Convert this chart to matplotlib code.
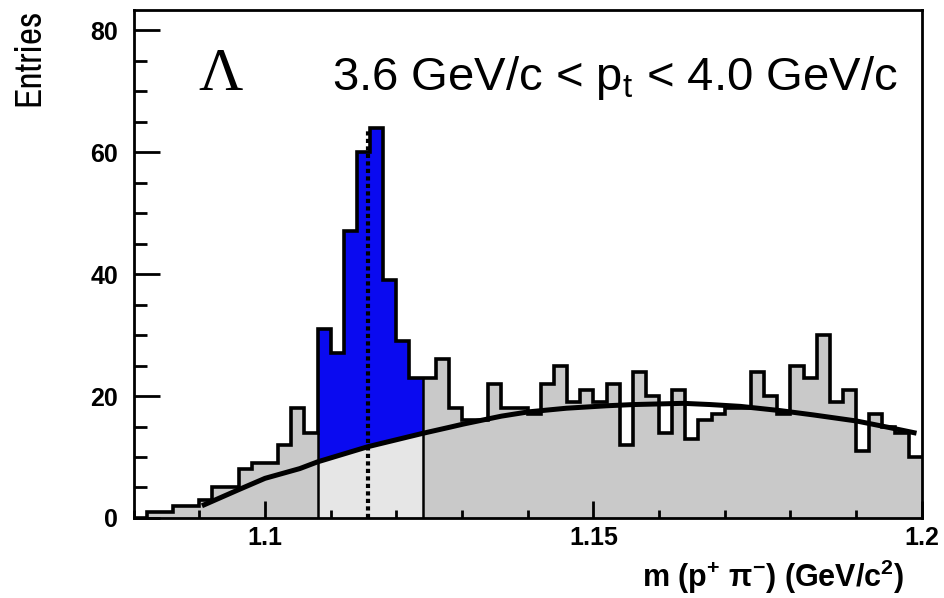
import numpy as np
import matplotlib
matplotlib.use("Agg")
import matplotlib.pyplot as plt
from matplotlib.ticker import MultipleLocator, FixedLocator

# ---- data ----
bin_edges = np.round(np.arange(1.080, 1.2001, 0.002), 3)
counts = [0, 1, 1, 2, 2, 3, 5, 5, 8, 9,
          9, 12, 18, 14, 31, 27, 47, 60, 64, 39,
          29, 23, 23, 26, 18, 16, 16, 22, 18, 18,
          17, 22, 25, 19, 21, 19, 22, 12, 24, 20,
          14, 21, 13, 16, 17, 18, 18, 24, 20, 17,
          25, 23, 30, 19, 21, 11, 17, 15, 14, 10]
fit_x = [1.0904, 1.0959, 1.1000, 1.1053, 1.1080, 1.1157, 1.1241, 1.1282, 1.1302,
         1.1360, 1.1401, 1.1459, 1.1520, 1.1561, 1.1637, 1.1678, 1.1724, 1.1785,
         1.1835, 1.1901, 1.1952, 1.1992]
fit_y = [2.0, 4.6, 6.5, 8.1, 9.2, 11.7, 13.9, 14.9, 15.4,
         16.7, 17.4, 18.0, 18.4, 18.6, 18.8, 18.6, 18.3, 17.6,
         16.9, 15.9, 14.8, 13.9]
window = (1.108, 1.124)
peak_mean = 1.1157
peak_top = 64
x_major = [1.1, 1.15, 1.2]
y_major = [0, 20, 40, 60, 80]

counts = np.array(counts, dtype=float)
edges = bin_edges

GRAY = "#c9c9c9"
LIGHT = "#e6e6e6"
BLUE = "#0a0af0"

fig = plt.figure(figsize=(9.45, 5.98), dpi=100)
ax = fig.add_axes([0.1414, 0.1338, 0.834, 0.8495])
ax.set_xlim(1.08, 1.2)
ax.set_ylim(0, 83.3)

# gray fill outside the signal window
in_win = (edges[:-1] >= window[0] - 1e-9) & (edges[1:] <= window[1] + 1e-9)
for i in range(len(counts)):
    if not in_win[i] and counts[i] > 0:
        ax.fill_between([edges[i], edges[i + 1]], 0, counts[i], color=GRAY, lw=0, zorder=1)

# signal window: light gray under fit, blue between fit and histogram
xg = np.linspace(window[0], window[1], 400)
fit_g = np.interp(xg, fit_x, fit_y)
idx = np.clip(np.searchsorted(edges, xg, side="right") - 1, 0, len(counts) - 1)
idx[-1] = idx[-2]
hist_g = counts[idx]
ax.fill_between(xg, 0, fit_g, color=LIGHT, lw=0, zorder=1)
ax.fill_between(xg, fit_g, hist_g, color=BLUE, lw=0, zorder=1)

# window boundary lines
i0 = int(np.argmin(np.abs(edges - window[0])))
i1 = int(np.argmin(np.abs(edges - window[1])))
ax.vlines([window[0]], 0, min(counts[i0 - 1], counts[i0]), color="black", lw=1.8, zorder=3)
ax.vlines([window[1]], 0, min(counts[i1 - 1], counts[i1]), color="black", lw=1.8, zorder=3)

# histogram outline
ax.stairs(counts, edges, color="black", lw=2.6, zorder=4, baseline=None)

# mean marker
ax.vlines([peak_mean], 0, peak_top, color="black", lw=3, linestyles=[(0, (1, 0.8))], zorder=5)

# fit curve
ax.plot(fit_x, fit_y, color="black", lw=3.6, zorder=6, solid_capstyle="butt")

# frame and ticks
for s in ax.spines.values():
    s.set_linewidth(2)
ax.xaxis.set_major_locator(FixedLocator(x_major))
ax.xaxis.set_minor_locator(MultipleLocator(0.01))
ax.yaxis.set_major_locator(FixedLocator(y_major))
ax.yaxis.set_minor_locator(MultipleLocator(5))
ax.tick_params(axis="both", which="both", direction="in", top=False, right=False, width=2)
ax.tick_params(axis="x", which="major", length=12, pad=6)
ax.tick_params(axis="x", which="minor", length=6)
ax.tick_params(axis="y", which="major", length=19, pad=11)
ax.tick_params(axis="y", which="minor", length=9.5)
ax.set_xticklabels(["1.1", "1.15", "1.2"])
ax.set_yticklabels([str(v) for v in y_major])
for lab in ax.get_xticklabels() + ax.get_yticklabels():
    lab.set_fontfamily("Liberation Sans")
    lab.set_fontweight("bold")
    lab.set_fontsize(18)

# labels
fig.text(0.9566, 0.0184, r"m (p$^{\mathregular{+}}$ π$^{\mathregular{-}}$) (GeV/c$^{\mathregular{2}}$)",
         ha="right", va="baseline", fontsize=22, fontweight="bold", family="Liberation Sans")
fig.text(0.031, 0.985, "Entries", rotation=90, ha="center", va="top",
         fontsize=27, family="Archivo Narrow")

# annotations
ax.text(1.0932, 70.2, "Λ", ha="center", va="baseline", fontsize=44, family="Liberation Serif")
ax.text(1.1102, 70.2, r"3.6 GeV/c < p$_{\mathregular{t}}$ < 4.0 GeV/c", ha="left", va="baseline",
        fontsize=34, family="Liberation Sans")

fig.savefig("out.png", dpi=100)
